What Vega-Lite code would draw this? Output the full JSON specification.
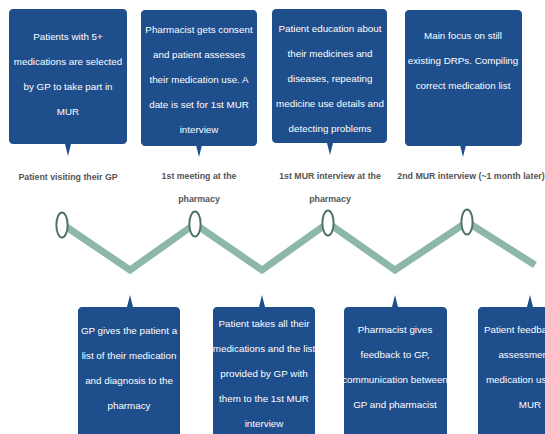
{
  "$schema": "https://vega.github.io/schema/vega-lite/v6.json",
  "width": 545,
  "height": 434,
  "padding": 0,
  "autosize": {"type": "none"},
  "background": "white",
  "config": {"view": {"stroke": null}},
  "datasets": {
    "boxes": [
      {"step": "A1", "x1": 9, "x2": 127, "y1": 9, "y2": 144, "cx": 68, "cy": 37, "text": "Patients with 5+\nmedications are selected\nby GP to take part in\nMUR"},
      {"step": "A2", "x1": 141, "x2": 257, "y1": 10, "y2": 146, "cx": 199, "cy": 30, "text": "Pharmacist gets consent\nand patient assesses\ntheir medication use. A\ndate is set for 1st MUR\ninterview"},
      {"step": "A3", "x1": 272, "x2": 387, "y1": 9, "y2": 143, "cx": 330, "cy": 29, "text": "Patient education about\ntheir medicines and\ndiseases, repeating\nmedicine use details and\ndetecting problems"},
      {"step": "A4", "x1": 405, "x2": 522, "y1": 10, "y2": 146, "cx": 463, "cy": 36, "text": "Main focus on still\nexisting DRPs. Compiling\ncorrect medication list"},
      {"step": "B1", "x1": 78, "x2": 180, "y1": 307, "y2": 445, "cx": 129, "cy": 331, "text": "GP gives the patient a\nlist of their medication\nand diagnosis to the\npharmacy"},
      {"step": "B2", "x1": 213, "x2": 315, "y1": 307, "y2": 445, "cx": 264, "cy": 324, "text": "Patient takes all their\nmedications and the list\nprovided by GP with\nthem to the 1st MUR\ninterview"},
      {"step": "B3", "x1": 344, "x2": 447, "y1": 307, "y2": 445, "cx": 395, "cy": 330, "text": "Pharmacist gives\nfeedback to GP,\ncommunication between\nGP and pharmacist"},
      {"step": "B4", "x1": 478, "x2": 582, "y1": 307, "y2": 445, "cx": 530, "cy": 330, "text": "Patient feedback and\nassessment of\nmedication use after\nMUR"}
    ],
    "pointers": [
      {"x": 68, "y": 150, "dir": "down"},
      {"x": 199, "y": 151, "dir": "down"},
      {"x": 330, "y": 149, "dir": "down"},
      {"x": 463, "y": 151, "dir": "down"},
      {"x": 130, "y": 301, "dir": "up"},
      {"x": 262, "y": 301, "dir": "up"},
      {"x": 395, "y": 301, "dir": "up"},
      {"x": 530, "y": 301, "dir": "up"}
    ],
    "zig": [
      {"o": 1, "x": 62, "y": 224},
      {"o": 2, "x": 130, "y": 270},
      {"o": 3, "x": 195, "y": 224},
      {"o": 4, "x": 262, "y": 270},
      {"o": 5, "x": 328, "y": 223},
      {"o": 6, "x": 395, "y": 270},
      {"o": 7, "x": 467, "y": 222},
      {"o": 8, "x": 535, "y": 265}
    ],
    "nodes": [
      {"x": 62, "y": 225},
      {"x": 195, "y": 224},
      {"x": 328, "y": 223},
      {"x": 467, "y": 222}
    ],
    "labels": [
      {"x": 68, "y": 177, "text": "Patient visiting their GP"},
      {"x": 199, "y": 176, "text": "1st meeting at the\npharmacy"},
      {"x": 330, "y": 176, "text": "1st MUR interview at the\npharmacy"},
      {"x": 471, "y": 176, "text": "2nd MUR interview (~1 month later)"}
    ]
  },
  "layer": [
    {
      "data": {"name": "zig"},
      "mark": {"type": "line", "color": "#8db7aa", "strokeWidth": 7, "strokeJoin": "miter"},
      "encoding": {
        "x": {"field": "x", "type": "quantitative", "scale": {"domain": [0, 545], "nice": false, "zero": false}, "axis": null},
        "y": {"field": "y", "type": "quantitative", "scale": {"domain": [0, 434], "nice": false, "zero": false, "reverse": true}, "axis": null},
        "order": {"field": "o"}
      }
    },
    {
      "data": {"name": "nodes"},
      "mark": {"type": "point", "shape": "M0,-1A0.45,1,0,1,1,0,1A0.45,1,0,1,1,0,-1Z", "size": 625, "filled": true, "fill": "white", "stroke": "#4e716b", "strokeWidth": 2, "opacity": 1},
      "encoding": {
        "x": {"field": "x", "type": "quantitative"},
        "y": {"field": "y", "type": "quantitative"}
      }
    },
    {
      "data": {"name": "boxes"},
      "mark": {"type": "rect", "color": "#1e4e8c", "cornerRadius": 4},
      "encoding": {
        "x": {"field": "x1", "type": "quantitative"},
        "x2": {"field": "x2"},
        "y": {"field": "y1", "type": "quantitative"},
        "y2": {"field": "y2"}
      }
    },
    {
      "data": {"name": "pointers"},
      "mark": {"type": "point", "filled": true, "opacity": 1, "size": 144, "color": "#1e4e8c"},
      "encoding": {
        "x": {"field": "x", "type": "quantitative"},
        "y": {"field": "y", "type": "quantitative"},
        "shape": {"field": "dir", "type": "nominal", "scale": {"domain": ["down", "up"], "range": ["M-0.5,-1L0.5,-1L0,1Z", "M-0.5,1L0.5,1L0,-1Z"]}, "legend": null}
      }
    },
    {
      "data": {"name": "boxes"},
      "mark": {"type": "text", "color": "white", "font": "Liberation Sans", "fontSize": 9.8, "lineHeight": 25, "lineBreak": "\n", "align": "center", "baseline": "middle"},
      "encoding": {
        "x": {"field": "cx", "type": "quantitative"},
        "y": {"field": "cy", "type": "quantitative"},
        "text": {"field": "text"}
      }
    },
    {
      "data": {"name": "labels"},
      "mark": {"type": "text", "color": "#555555", "font": "Liberation Sans", "fontSize": 8.8, "fontWeight": "bold", "lineHeight": 23, "lineBreak": "\n", "align": "center", "baseline": "middle"},
      "encoding": {
        "x": {"field": "x", "type": "quantitative"},
        "y": {"field": "y", "type": "quantitative"},
        "text": {"field": "text"}
      }
    }
  ]
}
